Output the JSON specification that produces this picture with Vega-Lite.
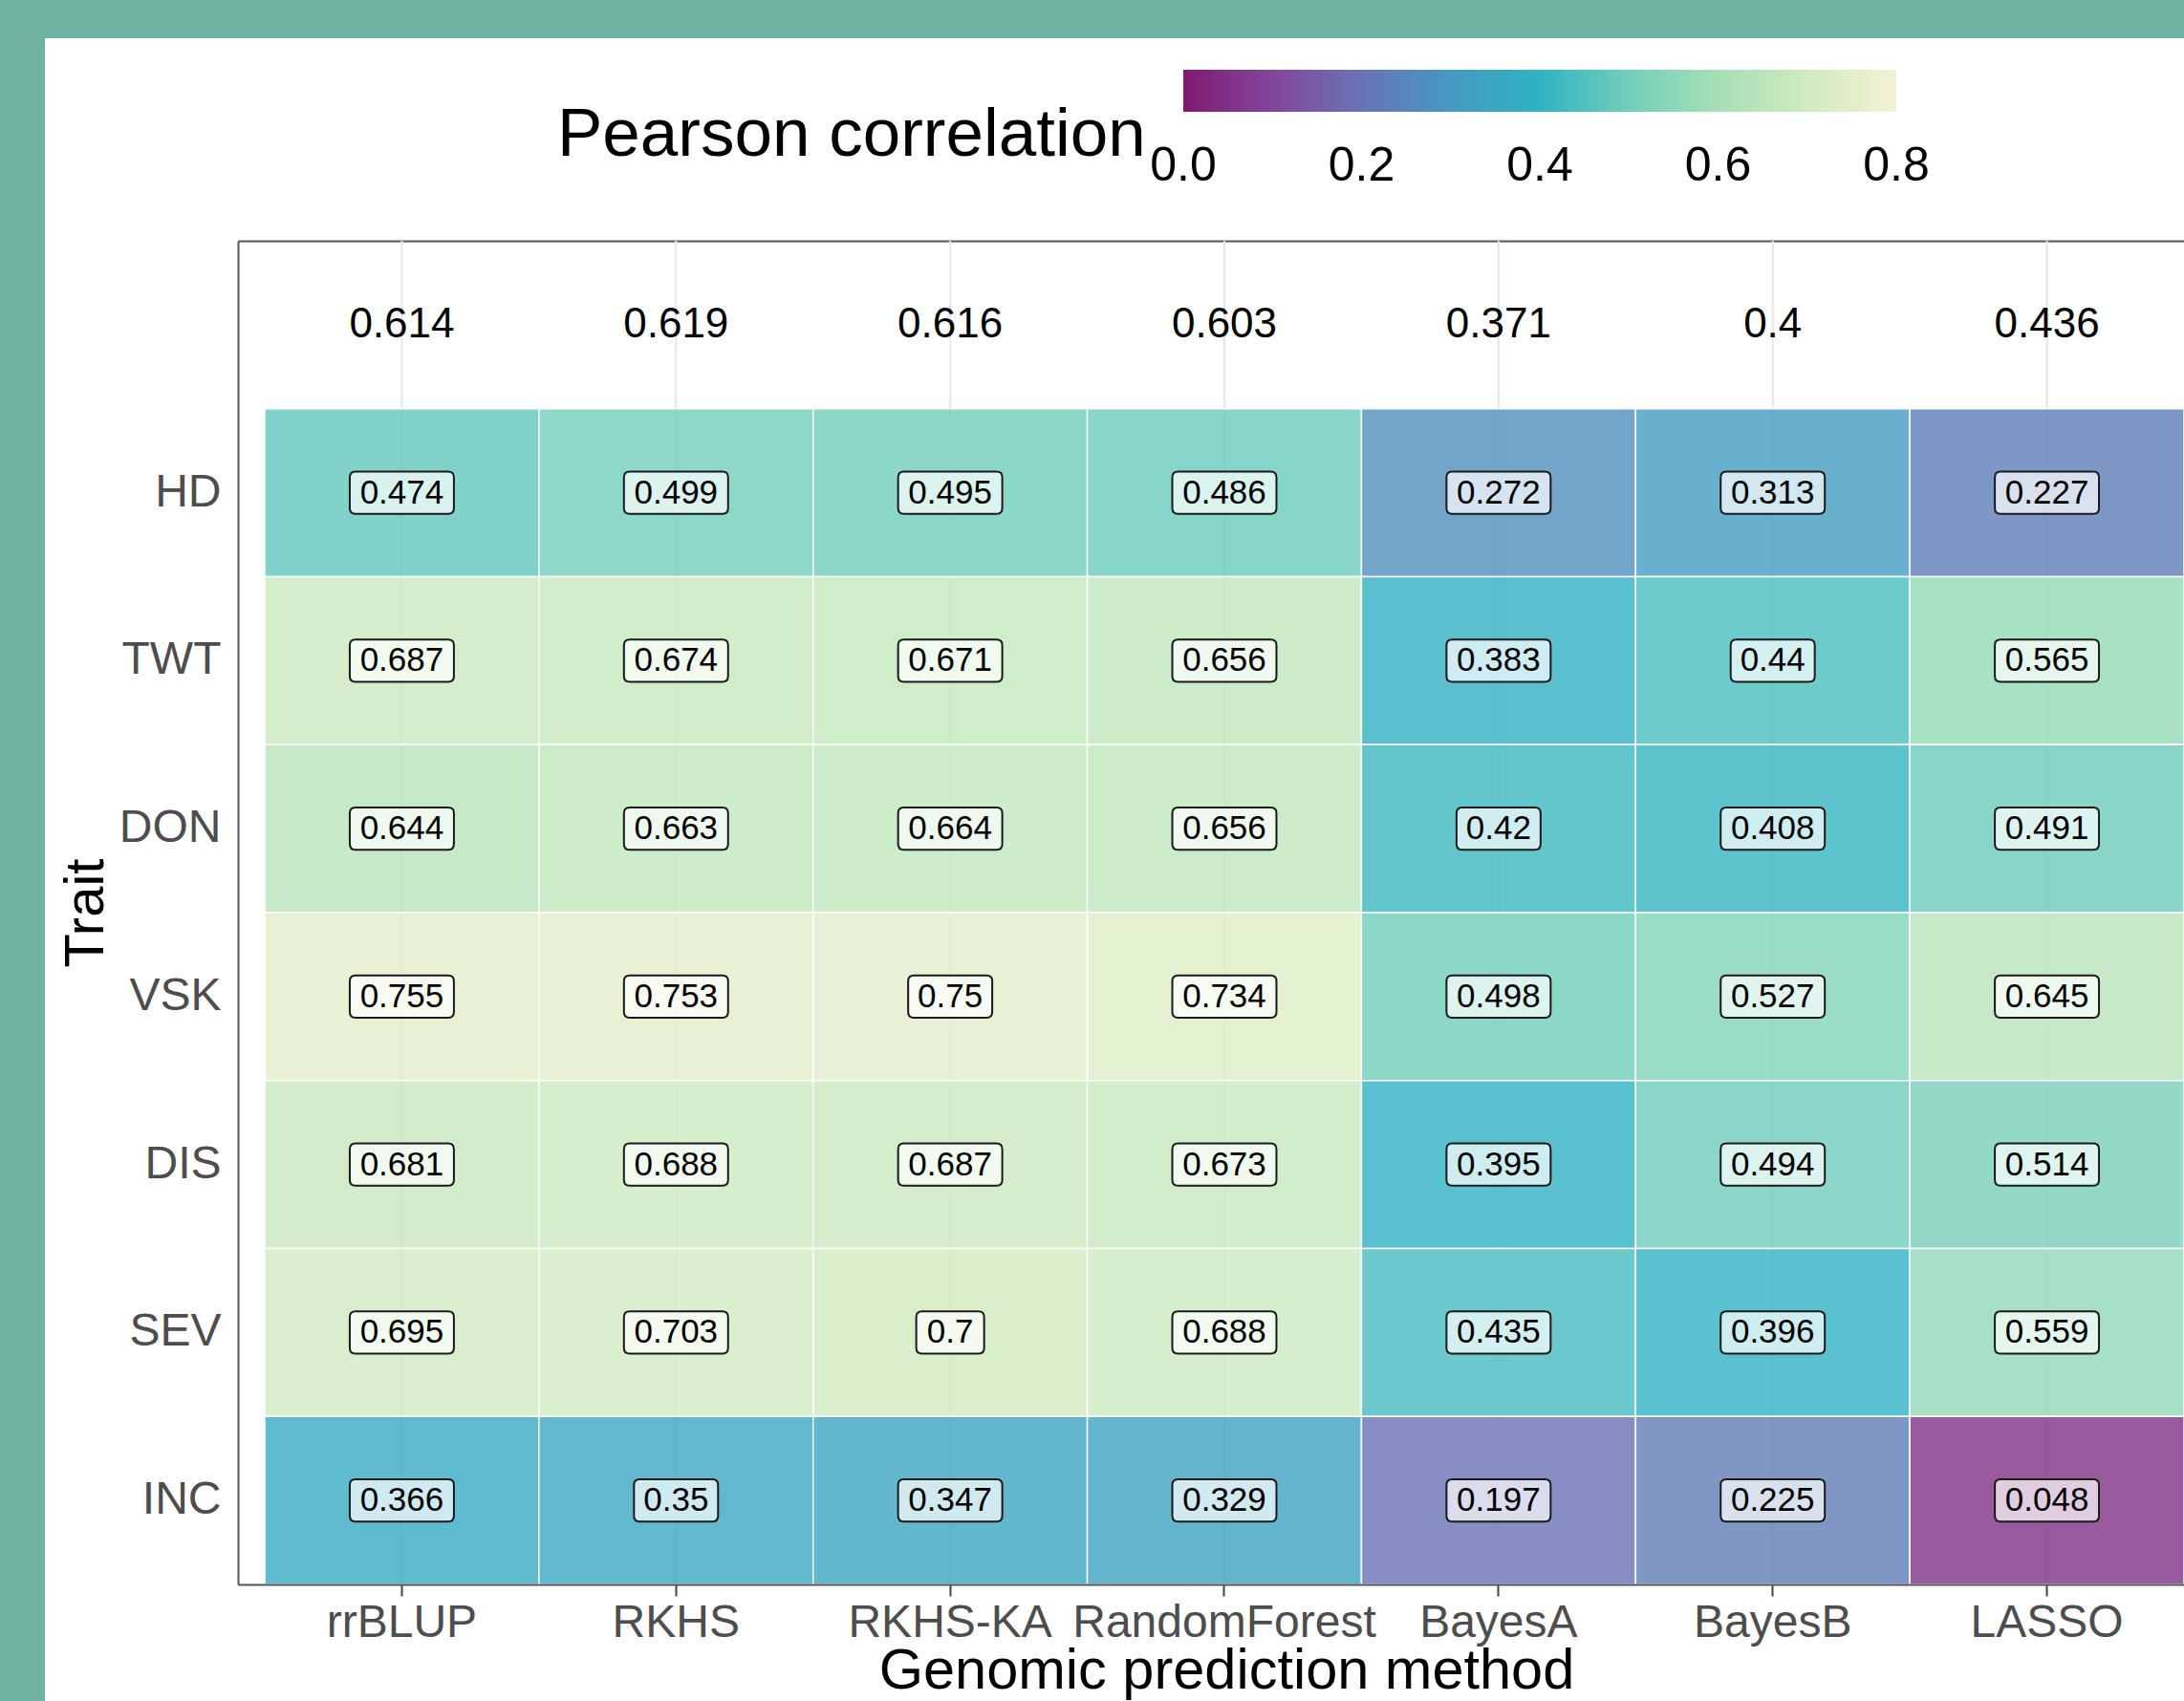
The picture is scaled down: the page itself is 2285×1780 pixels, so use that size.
{
  "$schema": "https://vega.github.io/schema/vega-lite/v6.json",
  "width": 2238,
  "height": 1740,
  "autosize": {"type": "none"},
  "padding": {"left": 47, "top": 40, "right": 0, "bottom": 0},
  "background": "#71B3A3",
  "config": {"view": {"fill": "white", "stroke": null}, "font": "Liberation Sans"},
  "datasets": {
    "cells": [
      {"method": "rrBLUP", "trait": "HD", "r": 0.474},
      {"method": "RKHS", "trait": "HD", "r": 0.499},
      {"method": "RKHS-KA", "trait": "HD", "r": 0.495},
      {"method": "RandomForest", "trait": "HD", "r": 0.486},
      {"method": "BayesA", "trait": "HD", "r": 0.272},
      {"method": "BayesB", "trait": "HD", "r": 0.313},
      {"method": "LASSO", "trait": "HD", "r": 0.227},
      {"method": "rrBLUP", "trait": "TWT", "r": 0.687},
      {"method": "RKHS", "trait": "TWT", "r": 0.674},
      {"method": "RKHS-KA", "trait": "TWT", "r": 0.671},
      {"method": "RandomForest", "trait": "TWT", "r": 0.656},
      {"method": "BayesA", "trait": "TWT", "r": 0.383},
      {"method": "BayesB", "trait": "TWT", "r": 0.44},
      {"method": "LASSO", "trait": "TWT", "r": 0.565},
      {"method": "rrBLUP", "trait": "DON", "r": 0.644},
      {"method": "RKHS", "trait": "DON", "r": 0.663},
      {"method": "RKHS-KA", "trait": "DON", "r": 0.664},
      {"method": "RandomForest", "trait": "DON", "r": 0.656},
      {"method": "BayesA", "trait": "DON", "r": 0.42},
      {"method": "BayesB", "trait": "DON", "r": 0.408},
      {"method": "LASSO", "trait": "DON", "r": 0.491},
      {"method": "rrBLUP", "trait": "VSK", "r": 0.755},
      {"method": "RKHS", "trait": "VSK", "r": 0.753},
      {"method": "RKHS-KA", "trait": "VSK", "r": 0.75},
      {"method": "RandomForest", "trait": "VSK", "r": 0.734},
      {"method": "BayesA", "trait": "VSK", "r": 0.498},
      {"method": "BayesB", "trait": "VSK", "r": 0.527},
      {"method": "LASSO", "trait": "VSK", "r": 0.645},
      {"method": "rrBLUP", "trait": "DIS", "r": 0.681},
      {"method": "RKHS", "trait": "DIS", "r": 0.688},
      {"method": "RKHS-KA", "trait": "DIS", "r": 0.687},
      {"method": "RandomForest", "trait": "DIS", "r": 0.673},
      {"method": "BayesA", "trait": "DIS", "r": 0.395},
      {"method": "BayesB", "trait": "DIS", "r": 0.494},
      {"method": "LASSO", "trait": "DIS", "r": 0.514},
      {"method": "rrBLUP", "trait": "SEV", "r": 0.695},
      {"method": "RKHS", "trait": "SEV", "r": 0.703},
      {"method": "RKHS-KA", "trait": "SEV", "r": 0.7},
      {"method": "RandomForest", "trait": "SEV", "r": 0.688},
      {"method": "BayesA", "trait": "SEV", "r": 0.435},
      {"method": "BayesB", "trait": "SEV", "r": 0.396},
      {"method": "LASSO", "trait": "SEV", "r": 0.559},
      {"method": "rrBLUP", "trait": "INC", "r": 0.366},
      {"method": "RKHS", "trait": "INC", "r": 0.35},
      {"method": "RKHS-KA", "trait": "INC", "r": 0.347},
      {"method": "RandomForest", "trait": "INC", "r": 0.329},
      {"method": "BayesA", "trait": "INC", "r": 0.197},
      {"method": "BayesB", "trait": "INC", "r": 0.225},
      {"method": "LASSO", "trait": "INC", "r": 0.048}
    ],
    "means": [
      {"method": "rrBLUP", "r": 0.614},
      {"method": "RKHS", "r": 0.619},
      {"method": "RKHS-KA", "r": 0.616},
      {"method": "RandomForest", "r": 0.603},
      {"method": "BayesA", "r": 0.371},
      {"method": "BayesB", "r": 0.4},
      {"method": "LASSO", "r": 0.436}
    ]
  },
  "layer": [
    {
      "data": {"name": "means"},
      "mark": {"type": "rule", "color": "#E6E6E6", "strokeWidth": 2},
      "encoding": {
        "x": {"field": "method", "type": "nominal", "axis": null},
        "y": {"datum": "Mean", "type": "nominal", "bandPosition": 0},
        "y2": {"datum": "INC", "bandPosition": 1}
      }
    },
    {
      "data": {"name": "cells"},
      "mark": {"type": "rect", "fillOpacity": 0.8, "stroke": "white", "strokeWidth": 1.5},
      "encoding": {
        "x": {
          "field": "method", "type": "nominal",
          "scale": {"domain": ["rrBLUP", "RKHS", "RKHS-KA", "RandomForest", "BayesA", "BayesB", "LASSO"], "range": [202, 2238], "paddingInner": 0, "paddingOuter": 0.0488, "align": 1},
          "axis": {
            "title": "Genomic prediction method", "titleFontSize": 59.5, "titleFontWeight": "normal", "titleColor": "black",
            "titleX": 1236, "titleY": 108, "titleBaseline": "alphabetic", "titleAlign": "center",
            "labelFontSize": 48, "labelColor": "#4D4D4D", "labelPadding": 4, "labelAngle": 0,
            "labelOverlap": false, "labelBound": false, "labelFlush": false, "labelLimit": 0,
            "tickSize": 12, "tickColor": "#444444", "tickWidth": 2,
            "domainColor": "#555555", "domainWidth": 2,
            "grid": false, "bandPosition": 0.5,
            "offset": -122
          }
        },
        "y": {
          "field": "trait", "type": "nominal",
          "scale": {"domain": ["Mean", "HD", "TWT", "DON", "VSK", "DIS", "SEV", "INC"], "range": [212, 1618], "paddingInner": 0, "paddingOuter": 0},
          "axis": {
            "title": "Trait", "titleFontSize": 58, "titleFontWeight": "normal", "titleColor": "black",
            "titleX": -142, "titleY": 915, "titleAngle": 270, "titleBaseline": "alphabetic", "titleAlign": "center",
            "labelFontSize": 48, "labelColor": "#4D4D4D", "labelPadding": 18, "labelLimit": 0,
            "ticks": false, "tickSize": 0,
            "domainColor": "#555555", "domainWidth": 2, "grid": false,
            "offset": -202,
            "labelExpr": "datum.value == 'Mean' ? '' : datum.value"
          }
        },
        "color": {
          "field": "r", "type": "quantitative",
          "scale": {"type": "linear", "domain": [0, 0.1, 0.2, 0.3, 0.4, 0.5, 0.6, 0.7, 0.8], "range": ["#7E1A70", "#83459C", "#6873B5", "#4699C2", "#2FB3C3", "#72CEBA", "#A6DFB6", "#D0EBBF", "#F3F1D5"], "interpolate": "rgb"},
          "legend": {
            "title": "Pearson correlation", "orient": "none", "legendX": 536, "legendY": 33,
            "direction": "horizontal", "gradientLength": 746, "gradientThickness": 44, "gradientStrokeWidth": 0,
            "titleOrient": "left", "titleFontSize": 71, "titleFontWeight": "normal", "titleColor": "black",
            "titleAnchor": "end", "titleBaseline": "line-top", "titleLineHeight": 51, "titlePadding": 39, "titleLimit": 0,
            "labelFontSize": 50, "labelColor": "black", "labelOffset": 32, "labelAlign": "center", "labelLimit": 0,
            "values": [0, 0.2, 0.4, 0.6, 0.8], "format": ".1f", "padding": 0, "labelOverlap": false,
            "encode": {"labels": {"update": {"align": {"value": "center"}}}}
          }
        }
      }
    },
    {
      "data": {"name": "means"},
      "mark": {"type": "text", "fontSize": 44, "color": "black"},
      "encoding": {
        "x": {
          "field": "method", "type": "nominal",
          "axis": {"orient": "top", "labels": false, "ticks": false, "grid": false, "title": null, "domain": true, "domainColor": "#555555", "domainWidth": 2, "offset": -212}
        },
        "y": {"datum": "Mean", "type": "nominal"},
        "text": {"field": "r", "type": "nominal"}
      }
    },
    {
      "data": {"name": "cells"},
      "mark": {"type": "point", "filled": true, "size": 14400, "fill": "white", "fillOpacity": 0.7, "stroke": "#1A1A1A", "strokeWidth": 2, "strokeOpacity": 1, "opacity": 1},
      "encoding": {
        "x": {"field": "method", "type": "nominal", "axis": null},
        "y": {"field": "trait", "type": "nominal"},
        "shape": {
          "condition": [
            {"test": "length(toString(datum.r)) == 3", "value": "M-0.492,-0.367H0.492Q0.592,-0.367,0.592,-0.267V0.267Q0.592,0.367,0.492,0.367H-0.492Q-0.592,0.367,-0.592,0.267V-0.267Q-0.592,-0.367,-0.492,-0.367Z"},
            {"test": "length(toString(datum.r)) == 4", "value": "M-0.633,-0.367H0.633Q0.733,-0.367,0.733,-0.267V0.267Q0.733,0.367,0.633,0.367H-0.633Q-0.733,0.367,-0.733,0.267V-0.267Q-0.733,-0.367,-0.633,-0.367Z"}
          ],
          "value": "M-0.808,-0.367H0.808Q0.908,-0.367,0.908,-0.267V0.267Q0.908,0.367,0.808,0.367H-0.808Q-0.908,0.367,-0.908,0.267V-0.267Q-0.908,-0.367,-0.808,-0.367Z"
        }
      }
    },
    {
      "data": {"name": "cells"},
      "mark": {"type": "text", "fontSize": 35, "color": "black"},
      "encoding": {
        "x": {"field": "method", "type": "nominal", "axis": null},
        "y": {"field": "trait", "type": "nominal"},
        "text": {"field": "r", "type": "nominal"}
      }
    }
  ],
  "resolve": {"axis": {"x": "independent"}}
}
